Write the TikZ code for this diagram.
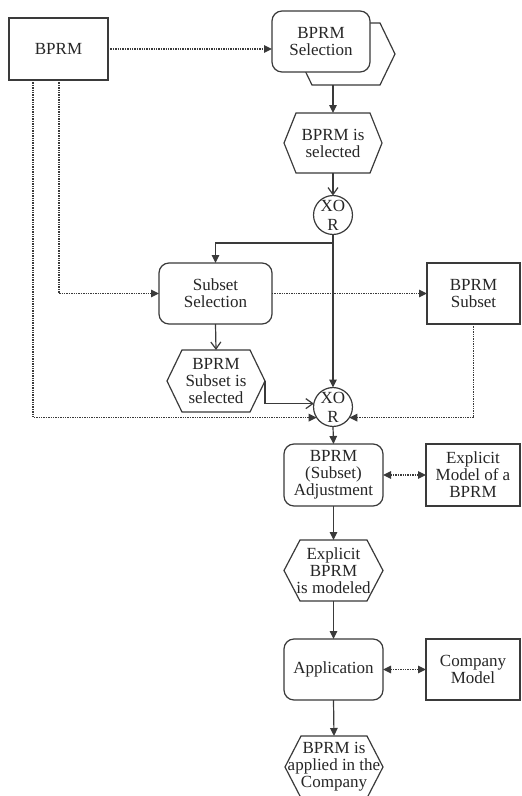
\documentclass[tikz,border=0pt]{standalone}
\usepackage{fontspec}
\setmainfont{Liberation Serif}
\usetikzlibrary{arrows.meta}
\definecolor{ln}{HTML}{3a3a3a}
\newcommand\hexshape[2]{\draw[shp] (#1.west) -- ([xshift=#2]#1.north west) -- ([xshift=-#2]#1.north east) -- (#1.east) -- ([xshift=-#2]#1.south east) -- ([xshift=#2]#1.south west) -- cycle;}
\tikzset{
  shp/.style={draw=ln, line width=1.2pt},
  base/.style={inner sep=0pt, outer sep=0pt, align=center, font=\fontsize{17}{17}\selectfont, text=black!85},
  func/.style={base, shp, rounded corners=10pt, fill=white},
  obj/.style={base, shp},
  evt/.style={base},
  xorn/.style={base, shp, circle, minimum size=36pt, font=\fontsize{17}{19}\selectfont},
  arr/.style={draw=ln, line width=1.2pt, -{Triangle[length=8pt,width=7.5pt]}},
  oarr/.style={draw=ln, line width=1.2pt, -{Straight Barb[length=7pt,width=10pt]}},
  darr/.style={draw=ln, line width=1.4pt, densely dotted, -{Triangle[length=8pt,width=7.5pt]}},
  ddarr/.style={draw=ln, line width=1.4pt, densely dotted, {Triangle[length=8pt,width=7.5pt]}-{Triangle[length=8pt,width=7.5pt]}},
}
\begin{document}
\begin{tikzpicture}[x=1pt, y=-1pt]
\useasboundingbox[fill=white] (0,0) rectangle (522,796);
% nodes
\node[obj, minimum width=99pt, minimum height=62pt] (bprm) at (58.5,49) {BPRM};
\draw[shp, fill=white] (297,54) -- (312,23) -- (380,23) -- (395,54) -- (380,85) -- (312,85) -- cycle;
\node[func, minimum width=98pt, minimum height=61pt] (sel) at (321,41.5) {BPRM\\Selection};
\coordinate (shb) at (333,85);
\node[evt, minimum width=98pt, minimum height=60pt] (evt1) at (333,143) {BPRM is\\selected};
\hexshape{evt1}{12pt}
\node[xorn] (xor1) at (333,215) {XO\\R};
\node[func, minimum width=113pt, minimum height=61pt] (subsel) at (215.5,293.5) {Subset\\Selection};
\node[obj, minimum width=93pt, minimum height=61pt] (bsub) at (473.5,293.5) {BPRM\\Subset};
\node[evt, minimum width=98pt, minimum height=62pt] (evt2) at (216,381) {BPRM\\Subset is\\selected};
\hexshape{evt2}{15pt}
\node[xorn] (xor2) at (333,407) {XO\\R};
\node[func, minimum width=99pt, minimum height=62pt] (adj) at (333.5,475) {BPRM\\(Subset)\\Adjustment};
\node[obj, minimum width=94pt, minimum height=62pt] (expl) at (473,475) {Explicit\\Model of a\\BPRM};
\node[evt, minimum width=99pt, minimum height=61pt] (evt3) at (333.5,570.5) {Explicit\\BPRM\\is modeled};
\hexshape{evt3}{16pt}
\node[func, minimum width=99pt, minimum height=61pt] (app) at (333.5,669.5) {Application};
\node[obj, minimum width=94pt, minimum height=61pt] (comp) at (473,669.5) {Company\\Model};
\node[evt, minimum width=98pt, minimum height=62pt] (evt4) at (334,767) {BPRM is\\applied in the\\Company};
\hexshape{evt4}{16pt}
% helper coordinates
\coordinate (c33) at (33,0);
\coordinate (c59) at (59,0);
\coordinate (br) at (333,243);
% connectors
\draw[darr] (bprm.east) -- (bprm.east -| sel.west);
\draw[arr] (shb) -- (evt1.north);
\draw[oarr] (evt1.south) -- (xor1.north);
\draw[arr] (xor1.south) -- (xor2.north);
\draw[arr] (br) -| (subsel.north);
\draw[darr] (bprm.south -| c59) |- (subsel.west);
\draw[darr] (subsel.east) -- (bsub.west);
\draw[oarr] (subsel.south) -- (evt2.north);
\draw[oarr] (evt2.east) |- (xor2.170);
\draw[darr] (bprm.south -| c33) |- (xor2.213);
\draw[darr] (bsub.south) |- (xor2.-33);
\draw[arr] (xor2.south) -- (adj.north);
\draw[ddarr] (adj.east) -- (expl.west);
\draw[arr] (adj.south) -- (evt3.north);
\draw[arr] (evt3.south) -- (app.north);
\draw[ddarr] (app.east) -- (comp.west);
\draw[arr] (app.south) -- (evt4.north);
\end{tikzpicture}
\end{document}
